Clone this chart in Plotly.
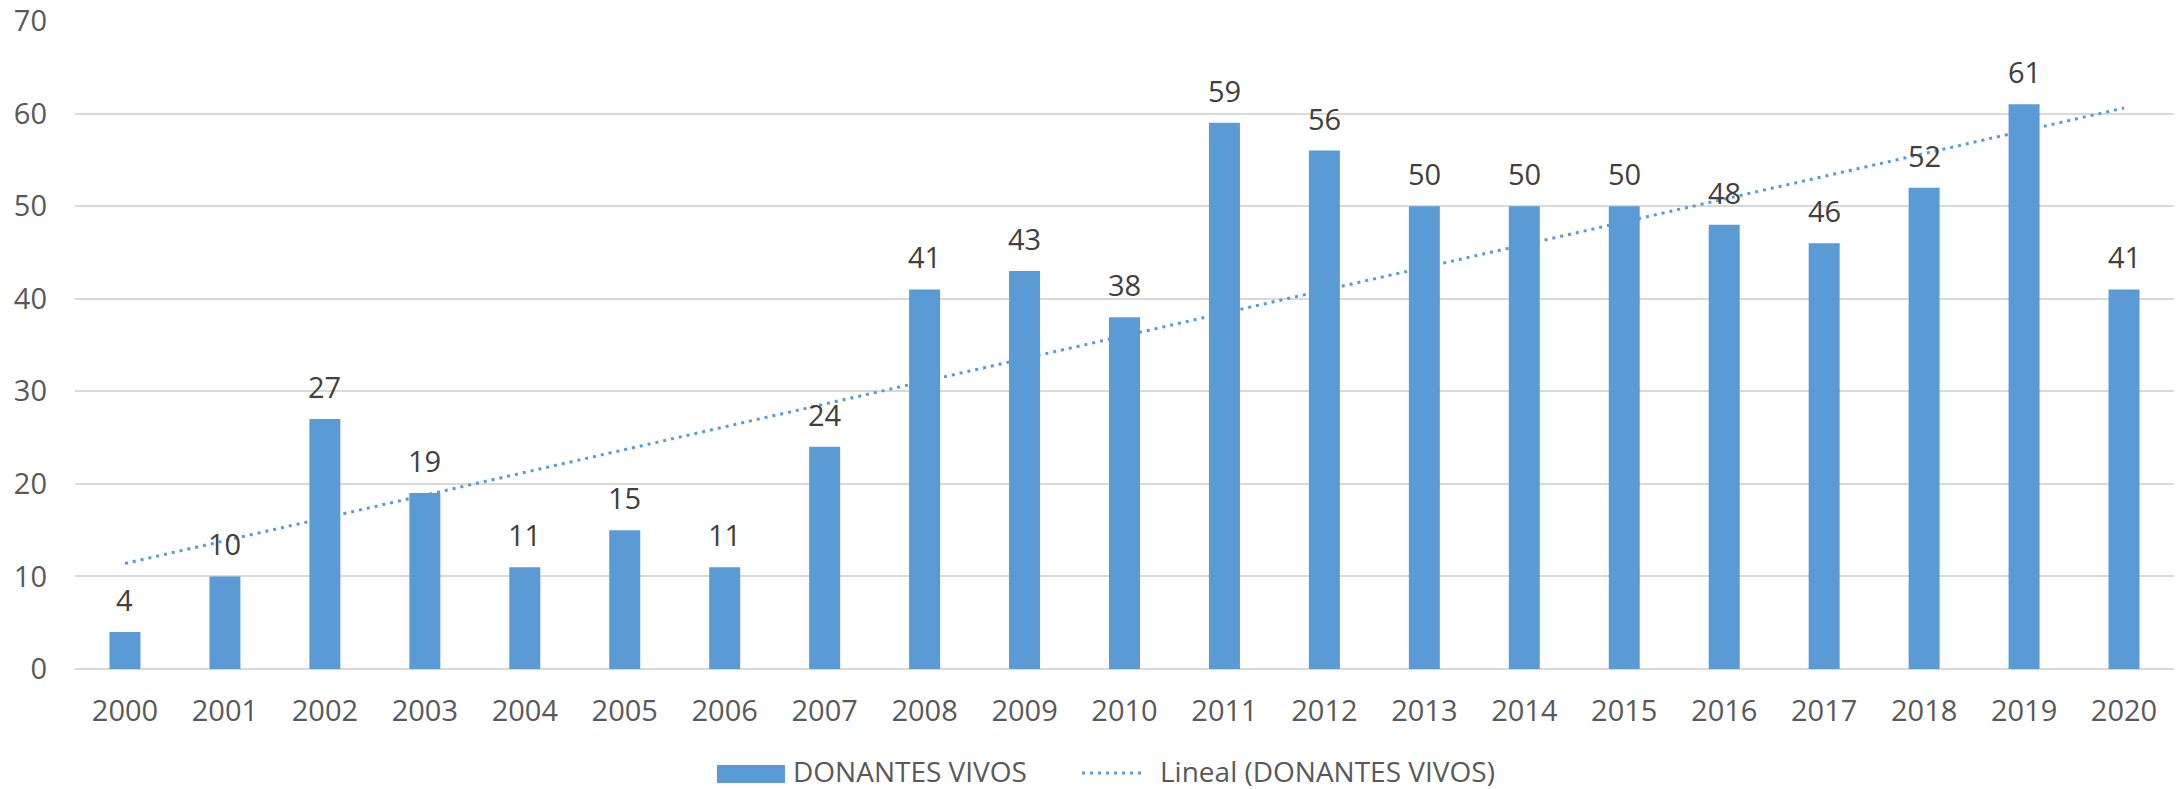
import plotly.graph_objects as go

# Data
years = list(range(2000, 2021))
donantes = [4, 10, 27, 19, 11, 15, 11, 24, 41, 43, 38, 59, 56, 50, 50, 50, 48, 46, 52, 61, 41]

# Excel linear trendline endpoints
trend_years = [2000, 2020]
trend_values = [11.4, 60.6]

y_ticks = [0, 10, 20, 30, 40, 50, 60, 70]

BAR_COLOR = '#5B9BD5'
FONT = 'Open Sans'

W, H = 2183, 789
ML, MR, MT, MB = 75, 9, 21, 120


def paper_x(px):
    return (px - ML) / (W - ML - MR)


def paper_y(py):
    return (H - MB - py) / (H - MT - MB)


fig = go.Figure()

fig.add_trace(go.Bar(
    x=years, y=donantes, name='DONANTES VIVOS',
    marker=dict(color=BAR_COLOR, line=dict(width=0)),
    width=0.31,
))

fig.add_trace(go.Scatter(
    x=trend_years, y=trend_values, mode='lines',
    name='Lineal (DONANTES VIVOS)',
    line=dict(color=BAR_COLOR, width=3, dash='3px,5px'),
))

# Data labels above each bar
for yr, v in zip(years, donantes):
    fig.add_annotation(
        x=yr, y=v, text=str(v), showarrow=False,
        yanchor='bottom', yshift=11,
        font=dict(family=FONT, size=29, color='#404040'),
    )

# Legend drawn by hand so the swatches match the Excel look
fig.add_shape(type='rect', xref='paper', yref='paper',
              x0=paper_x(717), x1=paper_x(785), y0=paper_y(783), y1=paper_y(765),
              fillcolor=BAR_COLOR, line=dict(width=0))
fig.add_shape(type='line', xref='paper', yref='paper',
              x0=paper_x(1082), x1=paper_x(1146), y0=paper_y(773), y1=paper_y(773),
              line=dict(color=BAR_COLOR, width=3, dash='3px,5px'))
fig.add_annotation(text='DONANTES VIVOS', xref='paper', yref='paper',
                   x=paper_x(791), y=paper_y(771), xanchor='left', yanchor='middle',
                   showarrow=False, font=dict(family=FONT, size=28, color='#595959'))
fig.add_annotation(text='Lineal (DONANTES VIVOS)', xref='paper', yref='paper',
                   x=paper_x(1158), y=paper_y(771), xanchor='left', yanchor='middle',
                   showarrow=False, font=dict(family=FONT, size=28, color='#595959'))

fig.update_xaxes(
    range=[1999.5, 2020.5], tickmode='array', tickvals=years,
    ticktext=[str(y) for y in years], showgrid=False,
    showline=False, zeroline=False,
    ticklabelstandoff=22, ticklabeloverflow='allow',
    tickfont=dict(family=FONT, size=29, color='#595959'),
)
fig.update_yaxes(
    range=[0, 70], tickvals=y_ticks, showgrid=True,
    gridcolor='#D9D9D9', gridwidth=1.5,
    zeroline=True, zerolinecolor='#D9D9D9', zerolinewidth=2,
    ticklabelstandoff=27, ticklabeloverflow='allow',
    tickfont=dict(family=FONT, size=29, color='#595959'),
)

fig.update_layout(
    width=W, height=H,
    margin=dict(l=ML, r=MR, t=MT, b=MB, autoexpand=False),
    plot_bgcolor='white', paper_bgcolor='white',
    showlegend=False,
)

# drop the browser's default body margin so the figure fills the window
fig.write_html('out.html', config={'displayModeBar': False},
               post_script="document.body.style.margin = '0px';")
